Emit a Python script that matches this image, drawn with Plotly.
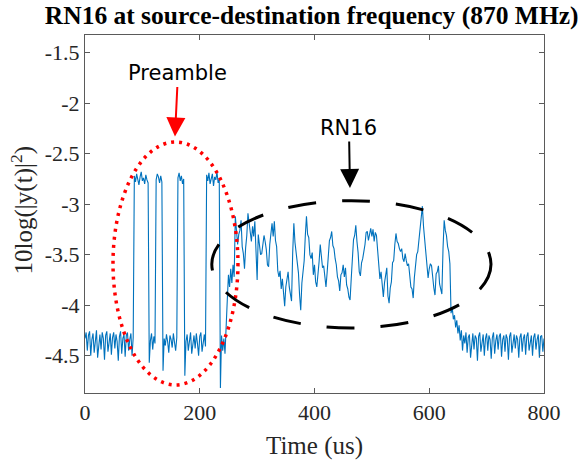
import plotly.graph_objects as go

# ---------------- data (time in us, power in dB-like units) ----------------
STEP = 2  # sampling interval of the trace, us

lead_start = 0
lead_vals = [-4.33, -4.27, -4.45, -4.30, -4.26, -4.50, -4.34, -4.28, -4.47, -4.31,
             -4.25, -4.52, -4.36, -4.29, -4.44, -4.27, -4.33, -4.54, -4.30, -4.26,
             -4.46, -4.35, -4.28, -4.49, -4.32, -4.27, -4.43, -4.29, -4.36, -4.55,
             -4.31, -4.26, -4.48, -4.33, -4.29, -4.51, -4.30, -4.27, -4.45, -4.34,
             -4.28, -4.50, -4.32]

preamble_start = 86
preamble_vals = (
    [-2.72, -2.78, -2.70, -2.76, -2.81, -2.73, -2.68, -2.77, -2.74, -2.80, -2.71, -2.76, -2.79]
    + [-4.57, -4.35, -4.28, -4.44, -4.31, -4.38]
    + [-2.76, -2.70, -2.73, -2.79, -2.72, -2.78]
    + [-4.65, -4.33, -4.40, -4.29, -4.36, -4.47, -4.30, -4.34, -4.42, -4.28, -4.37, -4.45, -4.32]
    + [-2.74, -2.69, -2.77, -2.72, -2.80, -2.75]
    + [-4.70, -4.36, -4.29, -4.45, -4.33, -4.27, -4.48, -4.35, -4.30, -4.43,
       -4.28, -4.38, -4.50, -4.31, -4.27, -4.46, -4.34, -4.29, -4.41]
    + [-2.71, -2.77, -2.69, -2.80, -2.74, -2.70, -2.82, -2.73, -2.76, -2.68, -2.79, -2.75]
    + [-4.82, -4.30, -4.45, -4.33, -4.48, -4.28, -3.95, -3.70, -3.82, -3.64,
       -3.78, -3.60, -3.72, -3.12, -3.25, -3.40, -3.30]
)

rn16_start = 270
rn16_vals = [
    -3.26, -3.16, -3.42, -3.49, -3.64, -3.43, -3.31, -3.09, -3.17, -3.28,
    -3.37, -3.22, -3.32, -3.17, -3.60, -3.75, -3.30, -3.40, -3.50, -3.49,
    -3.38, -3.31, -3.37, -3.45, -3.60, -3.62, -3.40, -3.26, -3.19, -3.32,
    -3.17, -3.36, -3.42, -3.66, -3.72, -3.66, -3.84, -3.74, -3.90, -4.01,
    -3.82, -3.73, -3.67, -3.82, -3.91, -3.96, -3.48, -3.19, -3.38, -3.47,
    -3.57, -3.68, -3.90, -4.05, -3.78, -3.67, -3.56, -3.31, -3.12, -3.30,
    -3.33, -3.50, -3.54, -3.48, -3.70, -3.60, -3.77, -3.82, -3.64, -3.57,
    -3.40, -3.52, -3.63, -3.61, -3.74, -3.82, -3.68, -3.53, -3.36, -3.33,
    -3.27, -3.41, -3.44, -3.54, -3.60, -3.72, -3.76, -3.86, -3.70, -3.68,
    -3.60, -3.72, -3.63, -3.80, -3.84, -3.92, -3.95, -3.74, -3.57, -3.35,
    -3.31, -3.21, -3.37, -3.48, -3.67, -3.71, -3.58, -3.54, -3.47, -3.40,
    -3.28, -3.27, -3.36, -3.31, -3.24, -3.32, -3.25, -3.37, -3.28, -3.31,
    -3.44, -3.57, -3.74, -3.67, -3.84, -3.92, -3.78, -3.72, -3.63, -3.91,
    -3.98, -3.83, -3.77, -3.58, -3.56, -3.40, -3.29, -3.37, -3.39, -3.44,
    -3.47, -3.44, -3.54, -3.57, -3.49, -3.56, -3.61, -3.59, -3.68, -3.82,
    -3.84, -3.93, -3.73, -3.62, -3.50, -3.47, -3.36, -3.31, -3.14, -3.02,
    -3.22, -3.34, -3.44, -3.54, -3.73, -3.64, -3.59, -3.61, -3.74, -3.83,
    -3.90, -3.69, -3.67, -3.61, -3.79, -3.84, -3.89, -3.44, -3.16, -3.26,
    -3.31, -3.42, -3.47, -3.59]

tail_start = 638
tail_vals = [-4.08, -4.02, -4.14, -4.10, -4.22, -4.15, -4.28, -4.20, -4.35, -4.25, -4.45, -4.30,
             -4.38, -4.27, -4.47, -4.32, -4.29, -4.52, -4.35, -4.28, -4.44, -4.30,
             -4.33, -4.55, -4.31, -4.27, -4.46, -4.36, -4.29, -4.50, -4.33, -4.28,
             -4.45, -4.30, -4.34, -4.53, -4.32, -4.27, -4.48, -4.35, -4.29, -4.44,
             -4.31, -4.28, -4.51, -4.34, -4.30, -4.46, -4.29, -4.33, -4.54, -4.31,
             -4.27, -4.47, -4.36, -4.29, -4.43, -4.30, -4.34, -4.52, -4.32, -4.28,
             -4.46, -4.33, -4.29, -4.49, -4.31, -4.27, -4.45, -4.35, -4.30, -4.50,
             -4.32, -4.28, -4.44, -4.34, -4.29, -4.52, -4.31, -4.30, -4.46, -4.33]

x_ticks = [0, 200, 400, 600, 800]
y_ticks = [-4.5, -4, -3.5, -3, -2.5, -2, -1.5]
y_tick_labels = ["-4.5", "-4", "-3.5", "-3", "-2.5", "-2", "-1.5"]

segments = [(lead_start, lead_vals), (preamble_start, preamble_vals),
            (rn16_start, rn16_vals), (tail_start, tail_vals)]

t, v = [], []
for start, vals in segments:
    for i, val in enumerate(vals):
        t.append(start + STEP * i)
        v.append(val)

# ---------------- figure ----------------
SERIF = "Liberation Serif"
TXT = "#262626"

fig = go.Figure()
fig.add_trace(go.Scatter(x=t, y=v, mode="lines",
                         line=dict(color="#0072BD", width=1.1),
                         hoverinfo="skip", showlegend=False))

axis_common = dict(showline=True, linecolor="#5a5a5a", linewidth=1, mirror="ticks",
                   ticks="inside", ticklen=5, tickcolor="#5a5a5a", showgrid=False,
                   zeroline=False, tickfont=dict(family=SERIF, size=22, color=TXT))

fig.update_layout(
    width=583, height=460,
    margin=dict(l=85, r=39, t=35, b=67),
    paper_bgcolor="white", plot_bgcolor="white",
    title=dict(text="<b>RN16 at source-destination frequency (870 MHz)</b>",
               font=dict(family=SERIF, size=25.5, color="black"),
               x=311.7 / 583, xanchor="center", y=1 - 15 / 460, yanchor="middle"),
    xaxis=dict(range=[0, 800], tickvals=x_ticks, **axis_common),
    yaxis=dict(range=[-4.87, -1.325], tickvals=y_ticks, ticktext=y_tick_labels,
               **axis_common),
)

# axis titles
fig.add_annotation(text="Time (us)", xref="paper", yref="paper",
                   x=0.5, y=-(446 - 393) / 358, xanchor="center", yanchor="middle",
                   showarrow=False, font=dict(family=SERIF, size=25, color=TXT))
fig.add_annotation(text="10log(|y(t)|<sup>2</sup>)", xref="paper", yref="paper",
                   x=(22 - 85) / 459, y=0.51, xanchor="center", yanchor="middle",
                   textangle=-90, showarrow=False,
                   font=dict(family=SERIF, size=25, color=TXT))

# ellipses
fig.add_shape(type="circle", xref="x", yref="y", x0=48.8, x1=266.6, y0=-4.79, y1=-2.384,
              line=dict(color="#ff0000", width=3.5, dash="3px,5px"))
fig.add_shape(type="circle", xref="x", yref="y", x0=221, x1=707.6, y0=-4.226, y1=-2.966,
              line=dict(color="black", width=3, dash="28px,26px"))

# labels with arrows (arrow tip at x,y; label placed ax/ay pixels away)
fig.add_annotation(text="Preamble", x=156.8, y=-2.33, xref="x", yref="y",
                   ax=3, ay=-63, showarrow=True, arrowhead=2, arrowsize=1.9,
                   arrowwidth=2, arrowcolor="#ff0000", standoff=0, startstandoff=0,
                   font=dict(family="DejaVu Sans", size=21, color="black"))
fig.add_annotation(text="RN16", x=461.8, y=-2.84, xref="x", yref="y",
                   ax=-1, ay=-60, showarrow=True, arrowhead=2, arrowsize=1.9,
                   arrowwidth=2, arrowcolor="black", standoff=0, startstandoff=0,
                   font=dict(family="DejaVu Sans", size=21, color="black"))

fig.write_html("out.html")
